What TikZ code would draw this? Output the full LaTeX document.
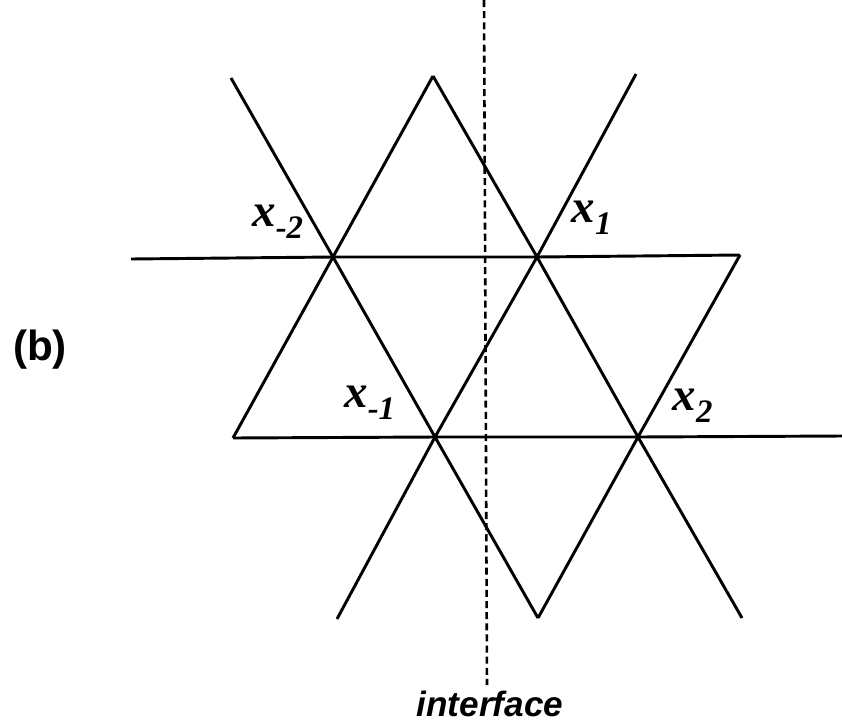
\documentclass[tikz,border=0pt]{standalone}
\usepackage{fontspec}
\setmainfont{Liberation Serif}
\setsansfont{Liberation Sans}
\usepackage{tikz}
\usetikzlibrary{positioning, calc}

\begin{document}
\begin{tikzpicture}[
			x=0.03cm, y=-0.03cm,
			lat/.style={line width=2.5pt, line join=miter},
			iface/.style={line width=2.2pt, dash pattern=on 6pt off 3.5pt},
			lbl/.style={font=\fontsize{40}{44}\selectfont\bfseries\itshape, inner sep=0pt},
			tag/.style={font=\fontsize{36}{40}\selectfont\sffamily\bfseries, inner sep=0pt},
			iflabel/.style={font=\fontsize{30}{34}\selectfont\sffamily\bfseries\itshape, inner sep=0pt}
			]
			\useasboundingbox (0,0) rectangle (842,724);
			% lattice points
			\coordinate (xm2)  at (333,257);
			\coordinate (xp1)  at (537,257);
			\coordinate (xm1)  at (435,437);
			\coordinate (xp2)  at (638,437);
			\coordinate (topL) at (231,78);
			\coordinate (apex) at (433,76);
			\coordinate (topR) at (636,74);
			\coordinate (botL) at (337,619);
			\coordinate (botA) at (538,618);
			\coordinate (botR) at (742,618);
			\coordinate (endL) at (131,259);
			\coordinate (cnrR) at (740,255);
			\coordinate (cnrL) at (233,438);
			\coordinate (endR) at (842,436);
			\coordinate (ifTop) at (484,0);
			\coordinate (ifBot) at (487,685);
			
			\draw[lat] (topL) -- (xm2) -- (xm1) -- (botA);
			\draw[lat] (apex) -- (xm2) -- (cnrL);
			\draw[lat] (apex) -- (xp1) -- (xp2) -- (botR);
			\draw[lat] (topR) -- (xp1) -- (xm1) -- (botL);
			\draw[lat] (cnrR) -- (xp2) -- (botA);
			\draw[lat] (endL) -- (xm2) -- (xp1) -- (cnrR);
			\draw[lat] (cnrL) -- (xm1) -- (xp2) -- (endR);
			\draw[iface] (ifTop) -- (ifBot);
			
			\node[lbl] (lm2) at (278,222) {x\textsubscript{-2}};
			\node[lbl] (lp1) at (592,218) {x\textsubscript{1}};
			\node[lbl] (lm1) at (370,403) {x\textsubscript{-1}};
			\node[lbl] (lp2) at (693,406) {x\textsubscript{2}};
			\node[tag] (b)   at (40,350) {(b)};
			\node[iflabel] (ifl) at (490,704) {interface};
		\end{tikzpicture}
\end{document}
